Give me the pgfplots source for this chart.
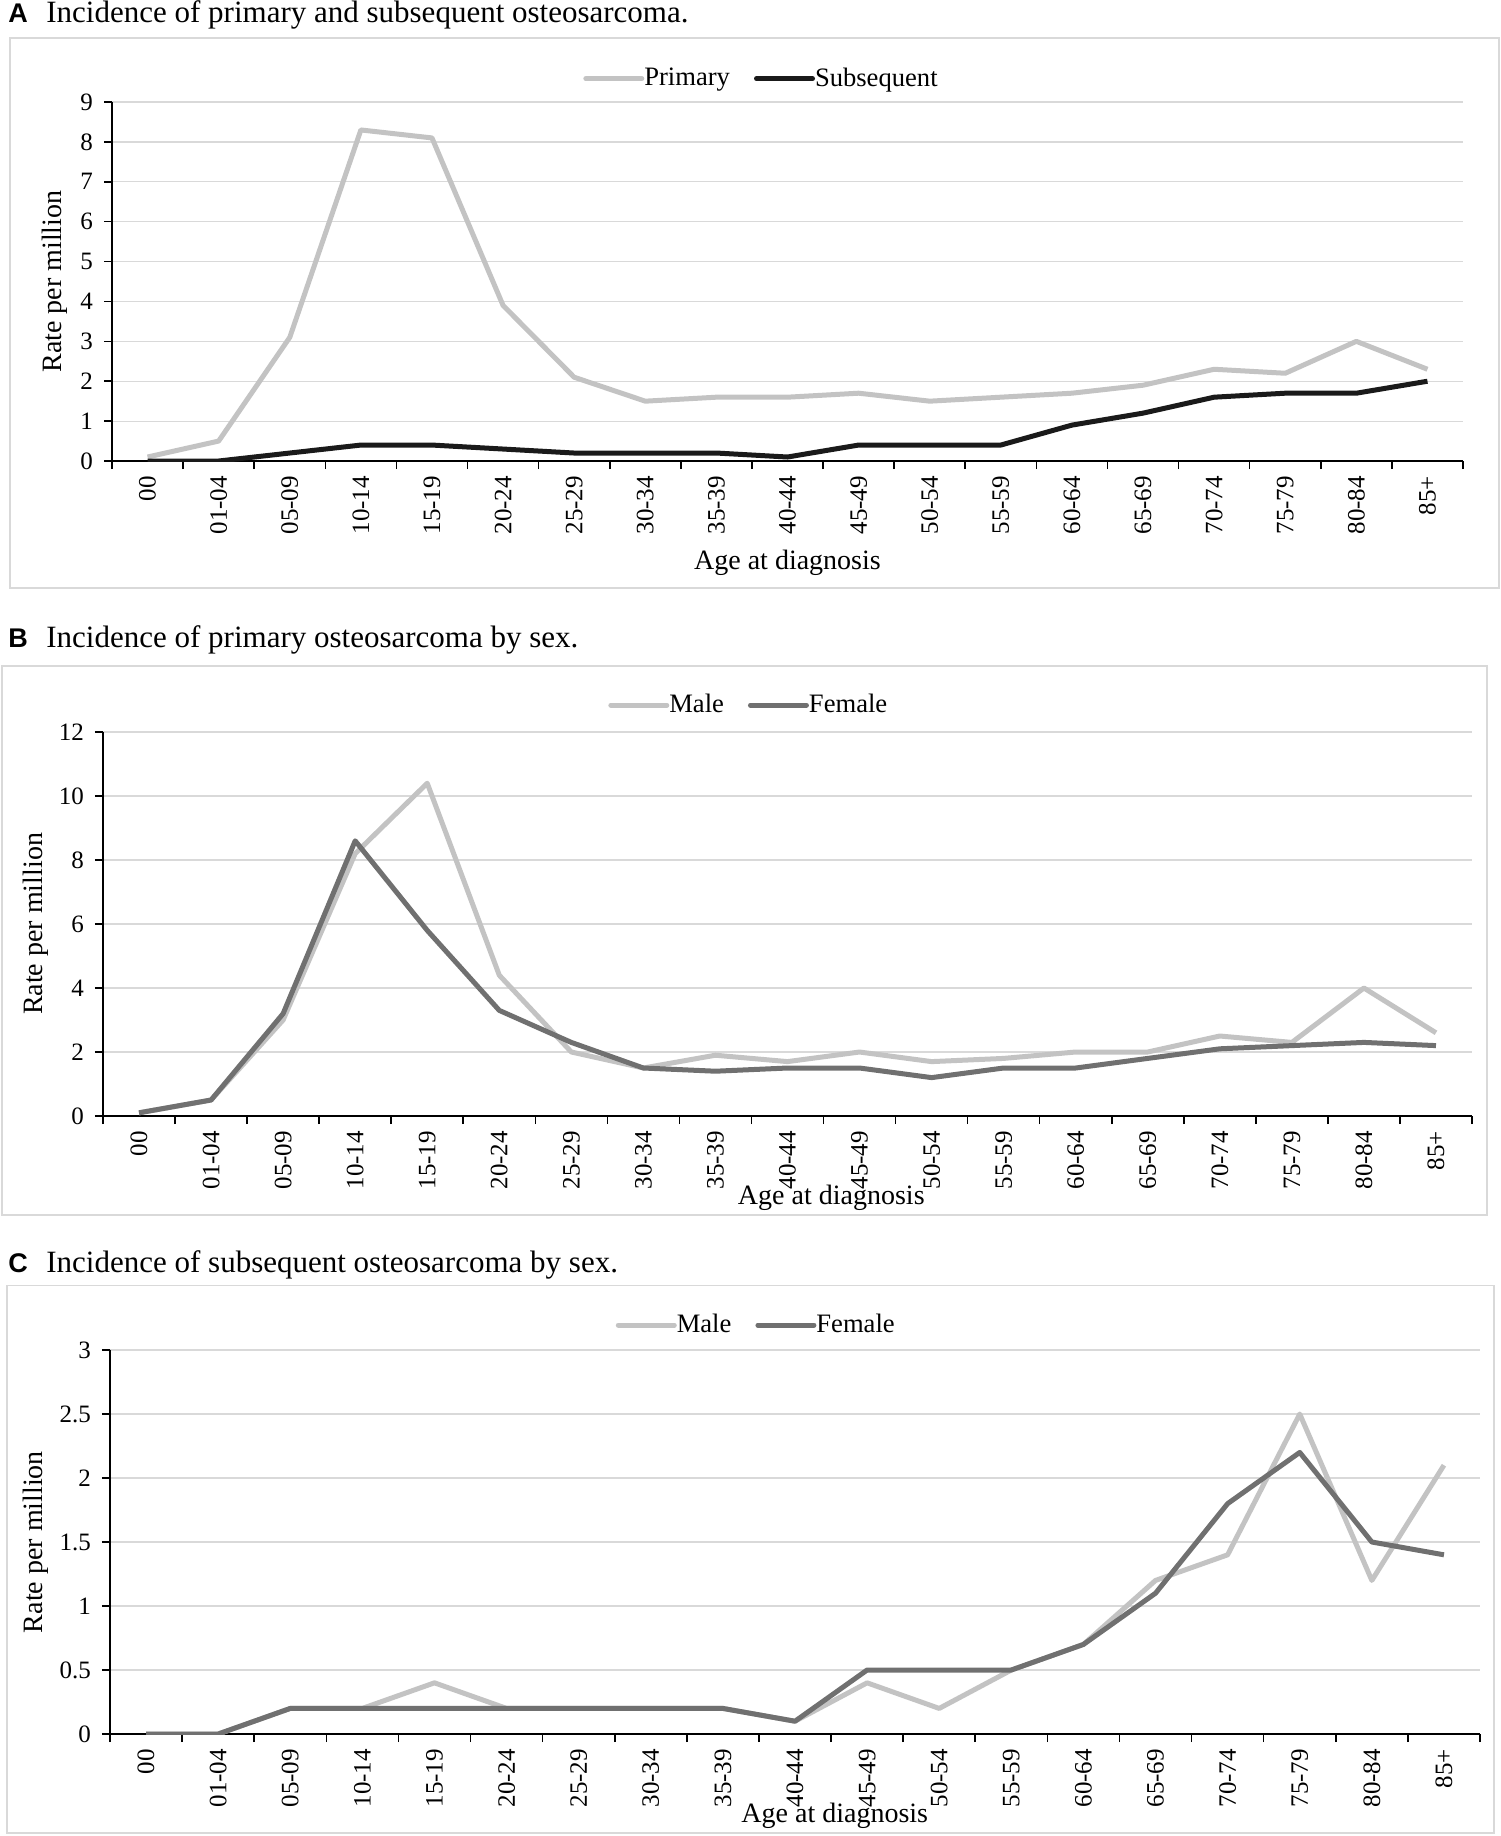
\documentclass[border=0pt]{standalone}
\usepackage{pgfplots}
\pgfplotsset{compat=1.18}
\usepackage{fontspec}
\setmainfont{Liberation Serif}
\newfontfamily\titlesans{Liberation Sans}
\definecolor{gridgray}{HTML}{D9D9D9}
\definecolor{boxgray}{HTML}{D9D9D9}
\definecolor{lightline}{HTML}{C3C3C3}
\definecolor{darkline}{HTML}{1A1A1A}
\definecolor{midline}{HTML}{707070}
\pgfplotsset{
  panel/.style={
    scale only axis,
    anchor=south west,
    xmin=-0.5, xmax=18.5,
    xtick={0,...,18},
    xticklabels={00,01-04,05-09,10-14,15-19,20-24,25-29,30-34,35-39,40-44,45-49,50-54,55-59,60-64,65-69,70-74,75-79,80-84,85+},
    minor xtick={-0.5,0.5,...,18.5},
    axis lines=left,
    axis line style={-, line width=0.8pt, black},
    tick align=outside,
    major tick length=4pt, minor tick length=4pt,
    tick style={black, line width=0.8pt},
    major x tick style={draw=none},
    xticklabel style={rotate=90, anchor=east, font=\fontsize{12.5}{13}\selectfont},
    yticklabel style={font=\fontsize{12.5}{13}\selectfont, /pgf/number format/assume math mode=true, xshift=-2pt},
    ymajorgrids,
    major grid style={line width=0.6pt, color=gridgray},
    label style={font=\fontsize{14}{15}\selectfont},
    xlabel={Age at diagnosis},
    ylabel={Rate per million},
    every axis plot/.append style={line width=2.5pt, line join=round, no markers},
    legend image code/.code={\draw[#1, line cap=round] (0pt,0pt) -- (28pt,0pt);},
    legend style={draw=none, fill=none, legend columns=2, anchor=center,
      font=\fontsize{13.3}{14}\selectfont,
      nodes={inner xsep=0pt, inner ysep=1pt},
      /tikz/every even column/.append style={column sep=12pt}},
  }
}
\begin{document}
\begin{tikzpicture}
\useasboundingbox (0pt,0pt) rectangle (750pt,-918pt);
% frames
\draw[boxgray, line width=0.7pt] (5pt,-19pt) rectangle (749.5pt,-294pt);
\draw[boxgray, line width=0.7pt] (1pt,-333pt) rectangle (743.5pt,-607.5pt);
\draw[boxgray, line width=0.7pt] (3.5pt,-642.75pt) rectangle (747pt,-916.5pt);
% titles
\node[anchor=base west, inner sep=0] at (4pt,-11.5pt) {\fontsize{13.5}{14}\selectfont\titlesans\bfseries A};
\node[anchor=base west, inner sep=0] at (23pt,-11.5pt) {\fontsize{15.5}{16}\selectfont Incidence of primary and subsequent osteosarcoma.};
\node[anchor=base west, inner sep=0] at (4pt,-323.5pt) {\fontsize{13.5}{14}\selectfont\titlesans\bfseries B};
\node[anchor=base west, inner sep=0] at (23pt,-323.5pt) {\fontsize{15.5}{16}\selectfont Incidence of primary osteosarcoma by sex.};
\node[anchor=base west, inner sep=0] at (4pt,-636.3pt) {\fontsize{13.5}{14}\selectfont\titlesans\bfseries C};
\node[anchor=base west, inner sep=0] at (23pt,-636.3pt) {\fontsize{15.5}{16}\selectfont Incidence of subsequent osteosarcoma by sex.};

% Panel A
\begin{axis}[panel, at={(56pt,-230.5pt)}, width=675.5pt, height=179.5pt,
  ymin=0, ymax=9, ytick={0,1,...,9},
  xlabel style={at={(axis description cs:0.5,-0.284)}, anchor=center},
  ylabel style={at={(axis description cs:-0.042,0.5)}, anchor=center},
  legend style={at={(0.48,1.065)}}]
\addplot[color=lightline] coordinates {(0,0.1) (1,0.5) (2,3.1) (3,8.3) (4,8.1) (5,3.9) (6,2.1) (7,1.5) (8,1.6) (9,1.6) (10,1.7) (11,1.5) (12,1.6) (13,1.7) (14,1.9) (15,2.3) (16,2.2) (17,3.0) (18,2.3)};
\addlegendentry{Primary}
\addplot[color=darkline] coordinates {(0,0) (1,0) (2,0.2) (3,0.4) (4,0.4) (5,0.3) (6,0.2) (7,0.2) (8,0.2) (9,0.1) (10,0.4) (11,0.4) (12,0.4) (13,0.9) (14,1.2) (15,1.6) (16,1.7) (17,1.7) (18,2.0)};
\addlegendentry{Subsequent}
\end{axis}

% Panel B
\begin{axis}[panel, at={(51.5pt,-558pt)}, width=684.5pt, height=192pt,
  ymin=0, ymax=12, ytick={0,2,...,12},
  xlabel style={at={(axis description cs:0.532,-0.2135)}, anchor=center},
  ylabel style={at={(axis description cs:-0.049,0.5)}, anchor=center},
  legend style={at={(0.471,1.070)}}]
\addplot[color=lightline] coordinates {(0,0.1) (1,0.5) (2,3.0) (3,8.2) (4,10.4) (5,4.4) (6,2.0) (7,1.5) (8,1.9) (9,1.7) (10,2.0) (11,1.7) (12,1.8) (13,2.0) (14,2.0) (15,2.5) (16,2.3) (17,4.0) (18,2.6)};
\addlegendentry{Male}
\addplot[color=midline] coordinates {(0,0.1) (1,0.5) (2,3.2) (3,8.6) (4,5.8) (5,3.3) (6,2.3) (7,1.5) (8,1.4) (9,1.5) (10,1.5) (11,1.2) (12,1.5) (13,1.5) (14,1.8) (15,2.1) (16,2.2) (17,2.3) (18,2.2)};
\addlegendentry{Female}
\end{axis}

% Panel C
\begin{axis}[panel, at={(55pt,-867pt)}, width=685pt, height=192pt,
  ymin=0, ymax=3, ytick={0,0.5,...,3},
  xlabel style={at={(axis description cs:0.529,-0.2135)}, anchor=center},
  ylabel style={at={(axis description cs:-0.054,0.5)}, anchor=center},
  legend style={at={(0.471,1.065)}}]
\addplot[color=lightline] coordinates {(0,0) (1,0) (2,0.2) (3,0.2) (4,0.4) (5,0.2) (6,0.2) (7,0.2) (8,0.2) (9,0.1) (10,0.4) (11,0.2) (12,0.5) (13,0.7) (14,1.2) (15,1.4) (16,2.5) (17,1.2) (18,2.1)};
\addlegendentry{Male}
\addplot[color=midline] coordinates {(0,0) (1,0) (2,0.2) (3,0.2) (4,0.2) (5,0.2) (6,0.2) (7,0.2) (8,0.2) (9,0.1) (10,0.5) (11,0.5) (12,0.5) (13,0.7) (14,1.1) (15,1.8) (16,2.2) (17,1.5) (18,1.4)};
\addlegendentry{Female}
\end{axis}
\end{tikzpicture}
\end{document}
